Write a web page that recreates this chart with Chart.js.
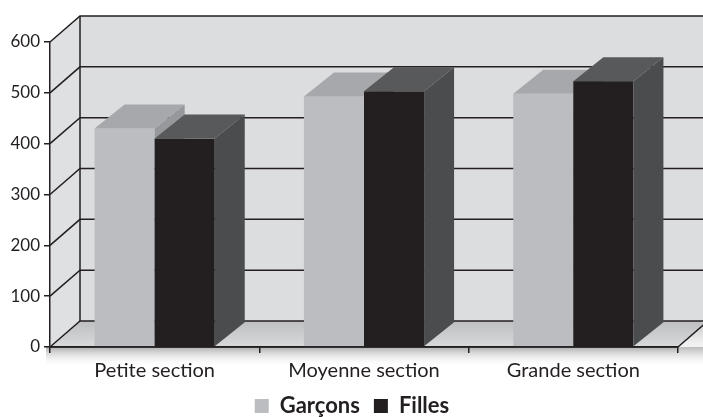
<!DOCTYPE html>
<html>
<head>
<meta charset="utf-8">
<script src="https://cdn.jsdelivr.net/npm/chart.js@4/dist/chart.umd.min.js"></script>
<style>
  html, body { margin: 0; padding: 0; background: #ffffff; overflow: hidden; }
  #wrap { width: 703px; height: 417px; }
  canvas { display: block; }
</style>
</head>
<body>
<div id="wrap"><canvas id="chart" width="703" height="417"></canvas></div>
<script>
// Effectifs par section
const categories = ['Petite section', 'Moyenne section', 'Grande section'];
const garcons = [430, 493, 498];
const filles = [410, 503, 523];
const seriesNames = ['Garçons', 'Filles'];
const yTickMin = 0;
const yTickMax = 600;
const yTickStep = 100;

const INK = '#231f20';
const FONT = 'Lato, "Open Sans", sans-serif';

// Oblique depth of the room (walls) and of the blocks
const WALL_DX = 30, WALL_DY = 26;
const BAR_DX = 30, BAR_DY = 24;

// Face shades for each series: front, top, right side
const faces = [
  { front: '#bcbdc0', top: '#a7a8ab', side: '#97989b' },
  { front: '#231f20', top: '#58595b', side: '#4b4c4e' }
];

// Back wall, side wall, floor and their grid lines
const room = {
  id: 'room',
  beforeDraw(chart) {
    const { ctx, chartArea: a, scales: { y } } = chart;
    const L = a.left, R = a.right, T = a.top, B = a.bottom;
    const dx = WALL_DX, dy = WALL_DY;
    const W = chart.width;
    ctx.save();

    // soft shadow below the floor
    const sh = ctx.createLinearGradient(0, B, 0, B + 20);
    sh.addColorStop(0, 'rgba(120,121,123,0.60)');
    sh.addColorStop(1, 'rgba(255,255,255,0)');
    ctx.fillStyle = sh;
    ctx.fillRect(L - 4, B, W - L + 4, 20);

    // back wall
    ctx.fillStyle = '#dcdddf';
    ctx.fillRect(L + dx, T - dy, Math.max(R - L, W - L - dx), B - T);

    // left side wall
    ctx.fillStyle = '#dfe0e2';
    ctx.beginPath();
    ctx.moveTo(L, B); ctx.lineTo(L, T); ctx.lineTo(L + dx, T - dy); ctx.lineTo(L + dx, B - dy);
    ctx.closePath(); ctx.fill();

    // floor
    const fl = ctx.createLinearGradient(0, B - dy, 0, B);
    fl.addColorStop(0, '#bdbec0');
    fl.addColorStop(1, '#d9dadc');
    ctx.fillStyle = fl;
    ctx.beginPath();
    ctx.moveTo(L, B); ctx.lineTo(L + dx, B - dy); ctx.lineTo(R + dx, B - dy); ctx.lineTo(R, B);
    ctx.closePath(); ctx.fill();

    // shading to the right of the floor corner
    const shr = ctx.createLinearGradient(0, B - dy, 0, B + 20);
    shr.addColorStop(0, 'rgba(170,171,173,0.7)');
    shr.addColorStop(1, 'rgba(255,255,255,0)');
    ctx.fillStyle = shr;
    ctx.beginPath();
    ctx.moveTo(R, B); ctx.lineTo(R + dx, B - dy); ctx.lineTo(W, B - dy);
    ctx.lineTo(W, B + 20); ctx.lineTo(R, B + 20); ctx.closePath();
    ctx.fill();

    // grid lines across the side wall and the back wall
    ctx.strokeStyle = INK;
    ctx.lineWidth = 1.5;
    for (let v = yTickMin; v <= yTickMax; v += yTickStep) {
      const py = y.getPixelForValue(v);
      ctx.beginPath();
      ctx.moveTo(L, py); ctx.lineTo(L + dx, py - dy); ctx.lineTo(R + dx, py - dy);
      ctx.stroke();
    }
    // back left edge and right floor edge
    ctx.beginPath();
    ctx.moveTo(L + dx, T - dy); ctx.lineTo(L + dx, B - dy);
    ctx.moveTo(R, B); ctx.lineTo(R + dx, B - dy);
    ctx.stroke();
    ctx.restore();
  }
};

// Blocks drawn from each bar element: front, top and side faces
const blocks = {
  id: 'blocks',
  beforeDatasetDraw() { return false; },
  afterDatasetsDraw(chart) {
    const { ctx } = chart;
    ctx.save();
    const n = chart.data.labels.length;
    for (let i = 0; i < n; i++) {
      chart.data.datasets.forEach((ds, d) => {
        const el = chart.getDatasetMeta(d).data[i];
        const { x, y, base, width } = el.getProps(['x', 'y', 'base', 'width'], true);
        const l = x - width / 2, r = x + width / 2;
        const f = faces[d];
        ctx.fillStyle = f.front;
        ctx.fillRect(l, y, width, base - y);
        ctx.fillStyle = f.top;
        ctx.beginPath();
        ctx.moveTo(l, y); ctx.lineTo(r, y); ctx.lineTo(r + BAR_DX, y - BAR_DY); ctx.lineTo(l + BAR_DX, y - BAR_DY);
        ctx.closePath(); ctx.fill();
        ctx.fillStyle = f.side;
        ctx.beginPath();
        ctx.moveTo(r, y); ctx.lineTo(r + BAR_DX, y - BAR_DY); ctx.lineTo(r + BAR_DX, base - BAR_DY); ctx.lineTo(r, base);
        ctx.closePath(); ctx.fill();
      });
    }
    // front floor edge over the block bottoms
    const a = chart.chartArea;
    ctx.strokeStyle = INK;
    ctx.lineWidth = 1.5;
    ctx.beginPath();
    ctx.moveTo(a.left, a.bottom); ctx.lineTo(a.right, a.bottom);
    ctx.stroke();
    ctx.restore();
  }
};

// Nudge the legend row to the right
const legendShift = {
  id: 'legendShift',
  afterLayout(chart) {
    const lg = chart.legend;
    if (!lg) return;
    const s = 13;
    lg.left += s;
    lg.right += s;
  }
};

function draw() {
  new Chart(document.getElementById('chart'), {
    type: 'bar',
    data: {
      labels: categories,
      datasets: [
        { label: seriesNames[0], data: garcons, backgroundColor: faces[0].front, borderWidth: 0 },
        { label: seriesNames[1], data: filles, backgroundColor: faces[1].front, borderWidth: 0 }
      ]
    },
    options: {
      responsive: false,
      animation: false,
      categoryPercentage: 0.574,
      barPercentage: 1.0,
      layout: { padding: { top: 42, right: 25, bottom: -10, left: 0 } },
      plugins: {
        tooltip: { enabled: false },
        legend: {
          display: true,
          position: 'bottom',
          labels: {
            color: INK,
            font: { family: FONT, size: 22, weight: 'bold' },
            boxWidth: 14,
            boxHeight: 14,
            padding: 14
          }
        }
      },
      scales: {
        x: {
          afterFit(s) { s.height = 34; },
          grid: { drawOnChartArea: false, drawTicks: true, tickLength: 6, color: INK, lineWidth: 1.5 },
          border: { display: true, color: INK, width: 1.5 },
          ticks: { color: INK, font: { family: FONT, size: 20 }, padding: 6, maxRotation: 0 }
        },
        y: {
          min: yTickMin,
          max: yTickMax,
          afterFit(s) { s.width = 50; },
          grid: { drawOnChartArea: false, drawTicks: true, tickLength: 6, color: INK, lineWidth: 1.5 },
          border: { display: true, color: INK, width: 1.5 },
          ticks: { stepSize: yTickStep, color: INK, font: { family: FONT, size: 17 }, padding: 4 }
        }
      }
    },
    plugins: [room, blocks, legendShift]
  });
}

Promise.all([
  document.fonts.load('bold 22px Lato'),
  document.fonts.load('20px Lato'),
  document.fonts.load('17px Lato')
]).then(draw, draw);
</script>
</body>
</html>
